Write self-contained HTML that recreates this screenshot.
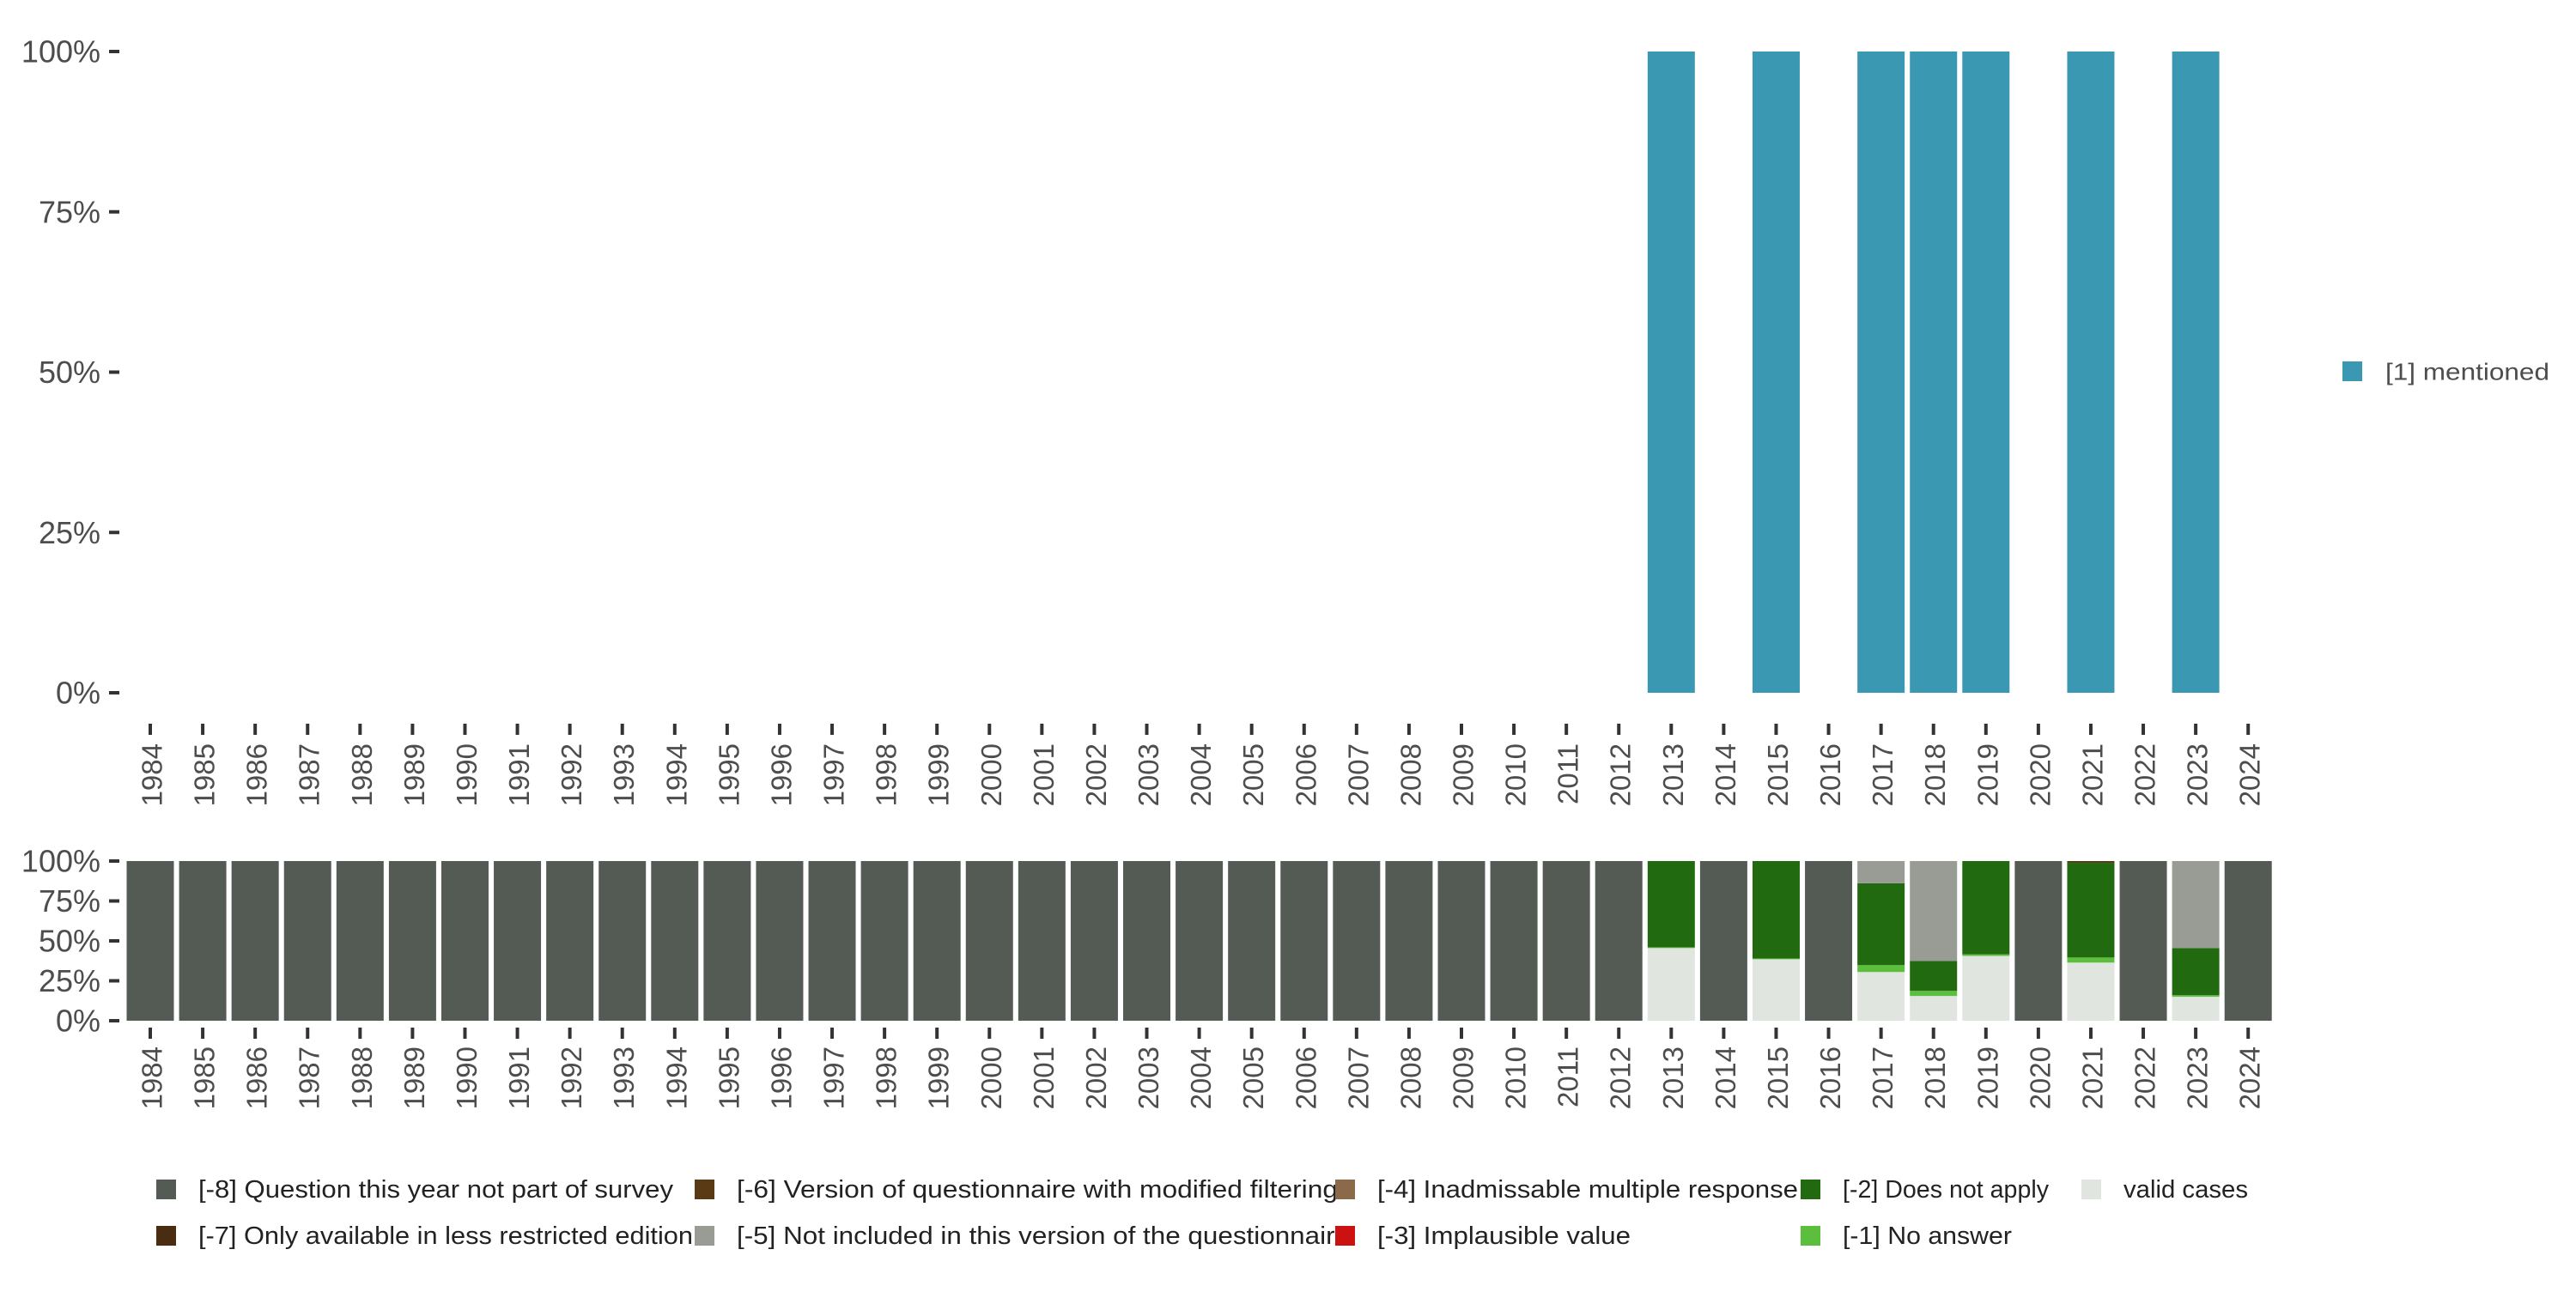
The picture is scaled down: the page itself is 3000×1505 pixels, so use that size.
<!DOCTYPE html>
<html><head><meta charset="utf-8"><style>
html,body{margin:0;padding:0;background:#fff}
text{font-family:"Liberation Sans",sans-serif;fill:#4d4d4d}
</style></head><body>
<svg id="c" width="3000" height="1500" xmlns="http://www.w3.org/2000/svg"></svg>
<script>
const years=[];for(let y=1984;y<=2024;y++)years.push(y);
const mentionedYears=[2013,2015,2017,2018,2019,2021,2023];
const mentionedValues=[100,100,100,100,100,100,100];
const yTicks=[0,25,50,75,100];
const yTickLabels=["0%","25%","50%","75%","100%"];
const catNames=["valid cases","[-1] No answer","[-2] Does not apply","[-3] Implausible value","[-4] Inadmissable multiple response","[-5] Not included in this version of the questionnaire","[-6] Version of questionnaire with modified filtering","[-7] Only available in less restricted edition","[-8] Question this year not part of survey"];
const catColors=["#e0e5e0","#5bbf3d","#216a0f","#cc1111","#8b6a4a","#989c94","#5a3a14","#4a2d10","#545b55"];
const stackYears=[2013,2015,2017,2018,2019,2021,2023];
const validVals=[45.5,38.5,30.5,15.5,40.6,36.4,15];
const noAnswerVals=[0.5,0.5,4.3,3.2,1,3.2,1];
const dnaVals=[54,61,51.3,18.7,58.4,59.3,29.5];
const notIncludedVals=[0,0,13.9,62.6,0,0,54.5];
const modFilterVals=[0,0,0,0,0,1.1,0];
const svg=document.getElementById('c');
const NS="http://www.w3.org/2000/svg";
function el(t,a,p){const e=document.createElementNS(NS,t);for(const k in a)e.setAttribute(k,a[k]);(p||svg).appendChild(e);return e;}
const x=(yr)=>175+61.08*(yr-1984);
const BW=55;
const yTop=(v)=>807-(807-60)*v/100;
const yBot=(v)=>1189-(1189-1003)*v/100;
yTicks.forEach((v,i)=>{
  const l=el('line',{x1:127,x2:139,y1:yTop(v),y2:yTop(v),stroke:'#333','stroke-width':4});
  
  const t=el('text',{x:117,y:yTop(v),'text-anchor':'end','dominant-baseline':'central','font-size':36});
  t.textContent=yTickLabels[i];
  const l2=el('line',{x1:127,x2:139,y1:yBot(v),y2:yBot(v),stroke:'#333','stroke-width':4});
  
  const t2=el('text',{x:117,y:yBot(v),'text-anchor':'end','dominant-baseline':'central','font-size':36});
  t2.textContent=yTickLabels[i];
});
mentionedYears.forEach((yr,i)=>{
  const r=el('rect',{x:x(yr)-BW/2,y:yTop(mentionedValues[i]),width:BW,height:yTop(0)-yTop(mentionedValues[i]),fill:'#3a98b2'});
  
});
years.forEach(yr=>{
  const si=stackYears.indexOf(yr);
  let vals;
  if(si<0) vals=[0,0,0,0,0,0,0,0,100];
  else vals=[validVals[si],noAnswerVals[si],dnaVals[si],0,0,notIncludedVals[si],modFilterVals[si],0,0];
  let cum=0;
  vals.forEach((v,k)=>{
    if(v<=0)return;
    const r=el('rect',{x:x(yr)-BW/2,y:yBot(cum+v),width:BW,height:yBot(cum)-yBot(cum+v),fill:catColors[k]});
    
    cum+=v;
  });
});
years.forEach(yr=>{
  const a=el('line',{x1:x(yr),x2:x(yr),y1:843,y2:856,stroke:'#333','stroke-width':4});
  
  const t=el('text',{x:0,y:0,'text-anchor':'end','dominant-baseline':'central','font-size':33,transform:`translate(${x(yr)+2},866) rotate(-90)`});
  t.textContent=yr;
  const b=el('line',{x1:x(yr),x2:x(yr),y1:1197,y2:1210,stroke:'#333','stroke-width':4});
  
  const t2=el('text',{x:0,y:0,'text-anchor':'end','dominant-baseline':'central','font-size':33,transform:`translate(${x(yr)+2},1219) rotate(-90)`});
  t2.textContent=yr;
});
const rs=el('rect',{x:2728,y:421,width:23,height:23,fill:'#3a98b2'});

const rt=el('text',{x:2778,y:433,'dominant-baseline':'central','font-size':28,fill:'#222',textLength:191,lengthAdjust:'spacingAndGlyphs'});
rt.textContent='[1] mentioned';
const legItems=[[8,182,1385,553],[6,809,1385,700],[4,1555,1385,490],[2,2097,1385,240],[0,2424,1385,145],[7,182,1439,576],[5,809,1439,714],[3,1555,1439,295],[1,2097,1439,197]];
legItems.forEach(([k,lx,ly,w])=>{
  const s=el('rect',{x:lx,y:ly-11,width:23,height:23,fill:catColors[k]});
  
  const t=el('text',{x:lx+49,y:ly+1,'dominant-baseline':'central','font-size':29,textLength:w,lengthAdjust:'spacingAndGlyphs'});
  t.style.fill='#222';
  t.textContent=catNames[k];
});
</script>
</body></html>
